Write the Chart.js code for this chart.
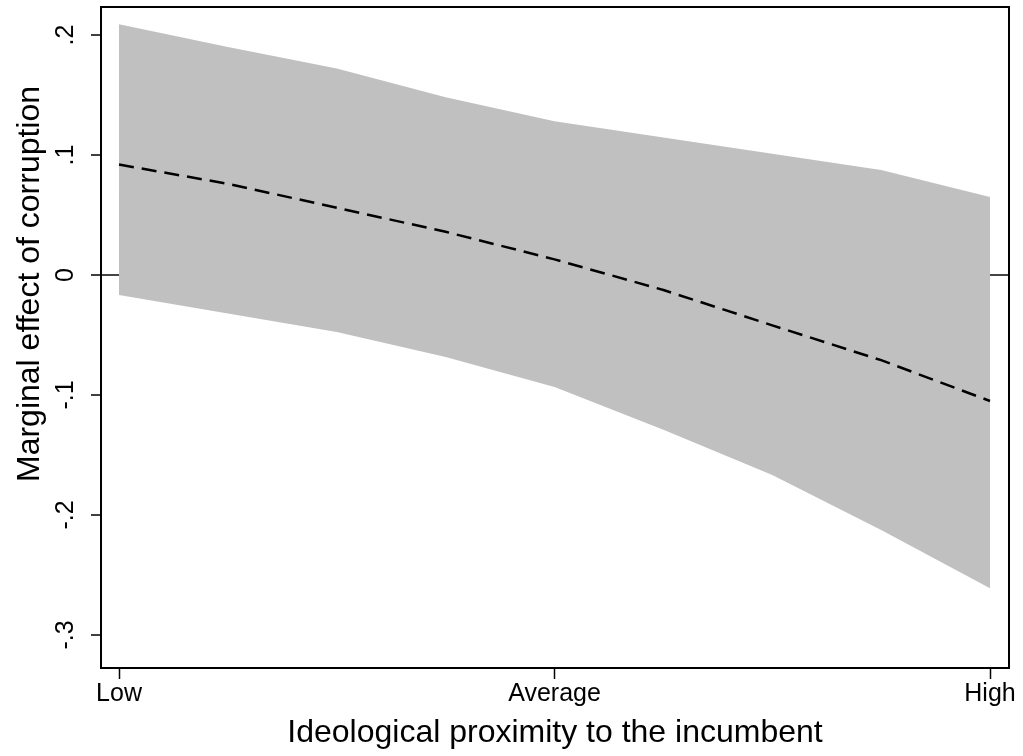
<!DOCTYPE html>
<html>
<head>
<meta charset="utf-8">
<script src="https://cdn.jsdelivr.net/npm/chart.js@4.4.0/dist/chart.umd.min.js"></script>
<style>
  html, body { margin: 0; padding: 0; background: #fff; }
  #wrap { width: 1023px; height: 756px; position: relative; }
</style>
</head>
<body>
<div id="wrap"><canvas id="c" width="1023" height="756"></canvas></div>
<script>
// ---- data ----
const xPositions = [0, 0.125, 0.25, 0.375, 0.5, 0.625, 0.75, 0.875, 1];
const estimate   = [0.092, 0.076, 0.056, 0.036, 0.013, -0.0125, -0.042, -0.071, -0.105];
const upperCI    = [0.209, 0.190, 0.172, 0.148, 0.128, 0.1145, 0.101, 0.0875, 0.065];
const lowerCI    = [-0.0167, -0.032, -0.0475, -0.0683, -0.0933, -0.129, -0.1667, -0.2125, -0.261];
const xTickValues = [0, 0.5, 1];
const xTickLabels = ['Low', 'Average', 'High'];
const yTickValues = [-0.3, -0.2, -0.1, 0, 0.1, 0.2];
const yTickLabels = ['-.3', '-.2', '-.1', '0', '.1', '.2'];
const xTitle = 'Ideological proximity to the incumbent';
const yTitle = 'Marginal effect of corruption';

const pts = arr => arr.map((v, i) => ({ x: xPositions[i], y: v }));
const FONT = "'Liberation Sans', Arial, Helvetica, sans-serif";

const framePlugin = {
  id: 'frame',
  afterDraw(chart) {
    const { ctx, chartArea: a } = chart;
    ctx.save();
    ctx.strokeStyle = '#000';
    ctx.lineWidth = 2;
    ctx.strokeRect(a.left, a.top, a.right - a.left, a.bottom - a.top);
    // y-axis title (sits slightly above the plot centre, as in the reference)
    ctx.fillStyle = '#000';
    ctx.font = "32px " + FONT;
    ctx.textAlign = 'center';
    ctx.textBaseline = 'middle';
    ctx.translate(30, a.top + (a.bottom - a.top) * 0.419);
    ctx.rotate(-Math.PI / 2);
    ctx.fillText(yTitle, 0, 0);
    ctx.restore();
  }
};

new Chart(document.getElementById('c'), {
  type: 'line',
  data: {
    datasets: [
      { label: 'upper', data: pts(upperCI), borderWidth: 0, pointRadius: 0,
        backgroundColor: '#c0c0c0', fill: '+1', tension: 0, order: 2 },
      { label: 'lower', data: pts(lowerCI), borderWidth: 0, pointRadius: 0,
        backgroundColor: '#c0c0c0', fill: false, tension: 0, order: 2 },
      { label: 'estimate', data: pts(estimate), borderColor: '#000', borderWidth: 2.5,
        borderDash: [15, 8], pointRadius: 0, fill: false, tension: 0, order: 1 }
    ]
  },
  options: {
    responsive: false,
    animation: false,
    events: [],
    layout: { padding: { top: 7, right: 14, left: 0, bottom: 0 } },
    plugins: { legend: { display: false }, tooltip: { enabled: false } },
    scales: {
      x: {
        type: 'linear',
        min: -0.0207, max: 1.0218,
        afterBuildTicks: s => { s.ticks = xTickValues.map(v => ({ value: v })); },
        afterFit: s => { s.height = 88; s.paddingLeft = 0; s.paddingRight = 0; },
        border: { display: false },
        grid: { drawOnChartArea: false, drawTicks: true, tickLength: 11, tickColor: '#000', tickWidth: 1.5 },
        ticks: {
          autoSkip: false, maxRotation: 0, minRotation: 0, padding: 0,
          color: '#000', font: { family: FONT, size: 25 },
          callback: (v) => { const i = xTickValues.indexOf(v); return i >= 0 ? xTickLabels[i] : ''; }
        },
        title: { display: true, text: xTitle, color: '#000',
          font: { family: FONT, size: 32 }, padding: { top: 4, bottom: 4 } }
      },
      y: {
        type: 'linear',
        min: -0.3275, max: 0.2233,
        afterBuildTicks: s => { s.ticks = yTickValues.map(v => ({ value: v })); },
        afterFit: s => { s.width = 101; s.paddingTop = 0; s.paddingBottom = 0; },
        border: { display: false },
        grid: {
          drawOnChartArea: true, drawTicks: true, tickLength: 10, tickColor: '#000', tickWidth: 1.5,
          color: c => (c.tick && Math.abs(c.tick.value) < 1e-9) ? '#444' : 'rgba(0,0,0,0)',
          lineWidth: 2
        },
        ticks: {
          autoSkip: false, minRotation: 90, maxRotation: 90, crossAlign: 'center', padding: 10,
          color: '#000', font: { family: FONT, size: 25 },
          callback: (v) => { const i = yTickValues.findIndex(t => Math.abs(t - v) < 1e-9); return i >= 0 ? yTickLabels[i] : ''; }
        },
        title: { display: false }
      }
    }
  },
  plugins: [framePlugin]
});
</script>
</body>
</html>
